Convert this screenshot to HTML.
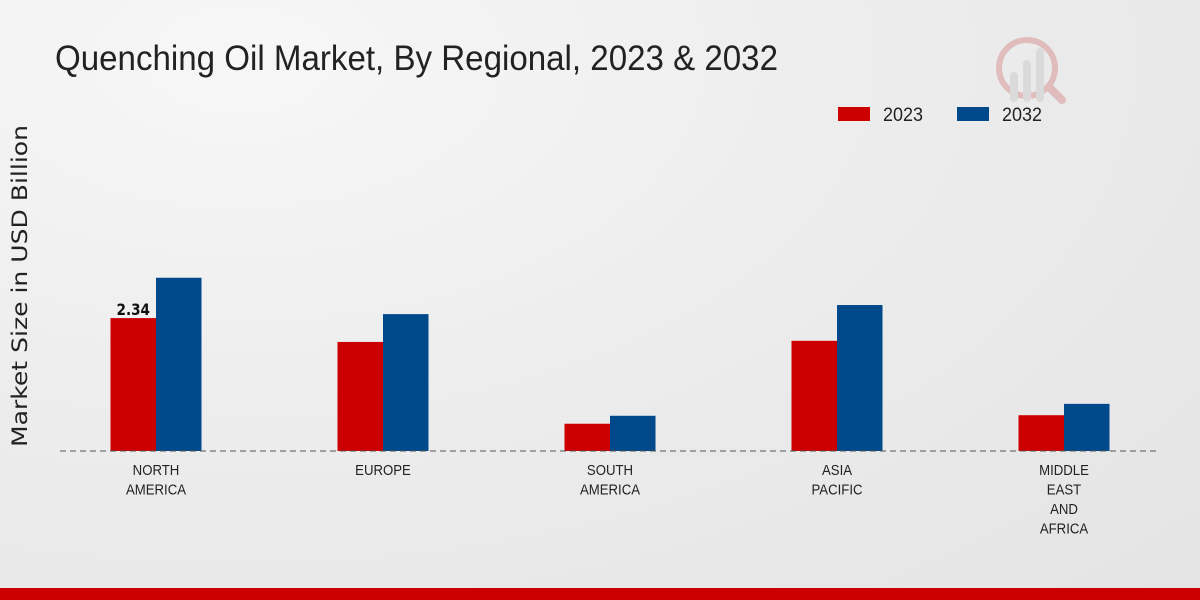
<!DOCTYPE html>
<html><head><meta charset="utf-8"><style>
body{margin:0;width:1200px;height:600px;overflow:hidden;font-family:"Liberation Sans",sans-serif;}
#bg{position:absolute;left:0;top:0;width:1200px;height:600px;background:radial-gradient(ellipse at 20% 10%,#f7f7f7 0%,#ececec 50%,#e4e4e4 100%);}
</style></head><body>
<div id="bg"></div>
<svg id="chart" width="1200" height="600" style="position:absolute;left:0;top:0">
<text x="55" y="70" font-size="35" fill="#222" textLength="723" lengthAdjust="spacingAndGlyphs">Quenching Oil Market, By Regional, 2023 &amp; 2032</text>
<text transform="translate(27,286) rotate(-90)" text-anchor="middle" font-size="21" fill="#222" font-family="DejaVu Sans, sans-serif" textLength="322" lengthAdjust="spacingAndGlyphs">Market Size in USD Billion</text>
<g>
<rect x="838" y="107" width="32" height="14" fill="#cc0000"/>
<text x="883" y="121" font-size="19" fill="#222" textLength="40" lengthAdjust="spacingAndGlyphs">2023</text>
<rect x="957" y="107" width="32" height="14" fill="#004a8c"/>
<text x="1002" y="121" font-size="19" fill="#222" textLength="40" lengthAdjust="spacingAndGlyphs">2032</text>
</g>
<g opacity="0.35">
<circle cx="1027" cy="68" r="28" fill="none" stroke="#c66" stroke-width="6"/>
<rect x="1010" y="72" width="8" height="30" rx="4" fill="#bbb"/>
<rect x="1023" y="60" width="8" height="42" rx="4" fill="#bbb"/>
<rect x="1036" y="48" width="8" height="54" rx="4" fill="#bbb"/>
<line x1="1050" y1="88" x2="1062" y2="100" stroke="#c66" stroke-width="8" stroke-linecap="round"/>
</g>
<g id="bars"></g>
<line x1="60" y1="451" x2="1160" y2="451" stroke="#555" stroke-width="1" stroke-dasharray="6,4"/>
<g id="xlabels"></g>
<rect x="0" y="588" width="1200" height="12" fill="#cc0000"/>
</svg>
<script>
const categories=[["NORTH","AMERICA"],["EUROPE"],["SOUTH","AMERICA"],["ASIA","PACIFIC"],["MIDDLE","EAST","AND","AFRICA"]];
const values2023=[2.34,1.92,0.48,1.94,0.63];
const values2032=[3.05,2.41,0.62,2.57,0.83];
const shownLabels=["2.34",null,null,null,null];
const ns="http://www.w3.org/2000/svg";
const base=451, pxPerUnit=56.8, x0=42.5, band=227, bw=45.5;
function y(v){return base-v*pxPerUnit;}
function cx(i){return x0+band*(i+0.5);}
const g=document.getElementById('bars'), xl=document.getElementById('xlabels');
categories.forEach((c,i)=>{
  [[values2023,'#cc0000',-bw],[values2032,'#004a8c',0]].forEach(([arr,col,off])=>{
    const r=document.createElementNS(ns,'rect');
    r.setAttribute('x',cx(i)+off);r.setAttribute('y',y(arr[i]));
    r.setAttribute('width',bw);r.setAttribute('height',base-y(arr[i]));r.setAttribute('fill',col);
    
    
    g.appendChild(r);
  });
  if(shownLabels[i]){
    const t=document.createElementNS(ns,'text');
    t.setAttribute('transform','translate('+(cx(i)-bw/2)+','+(y(values2023[i])-3)+') scale(0.85,1)');
    t.setAttribute('text-anchor','middle');t.setAttribute('font-size','16');t.setAttribute('font-weight','bold');
    t.setAttribute('fill','#111');t.setAttribute('font-family','DejaVu Sans, sans-serif');
    t.textContent=shownLabels[i];
    
    
    g.appendChild(t);
  }
  c.forEach((line,k)=>{
    const t=document.createElementNS(ns,'text');
    t.setAttribute('transform','translate('+cx(i)+','+(475+k*19.5)+') scale(0.88,1)');
    t.setAttribute('text-anchor','middle');t.setAttribute('font-size','15');t.setAttribute('fill','#222');
    t.textContent=line;
    
    
    xl.appendChild(t);
  });
});
</script>
</body></html>
